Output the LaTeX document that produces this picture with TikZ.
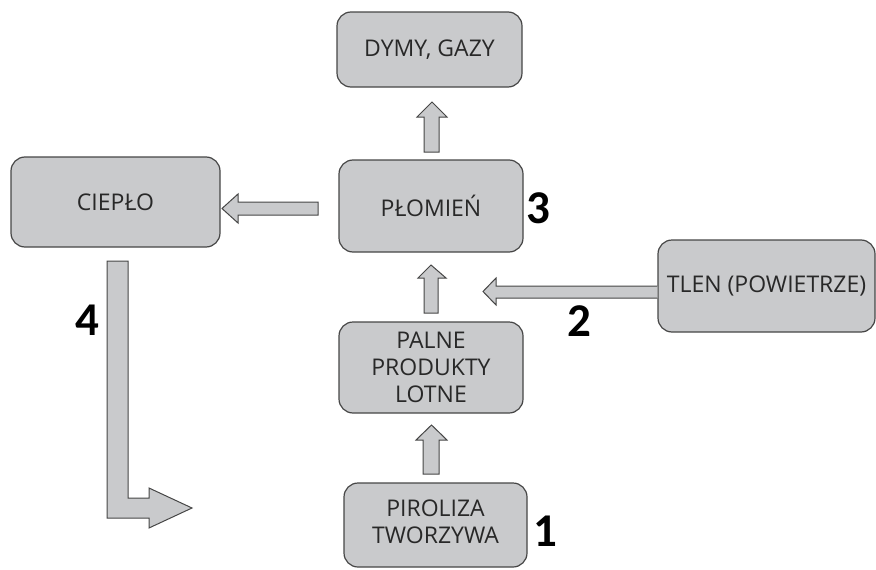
\documentclass[tikz,border=0pt]{standalone}
\usepackage{fontspec}
\setmainfont{Open Sans}
\newfontfamily\numfont{Carlito}
\definecolor{boxfill}{RGB}{201,202,204}
\definecolor{boxline}{RGB}{70,70,70}
\definecolor{txt}{RGB}{40,40,40}
\begin{document}
\begin{tikzpicture}[x=1pt,y=-1pt,
  box/.style={draw=boxline, fill=boxfill, line width=1.2pt, rounded corners=14pt,
    inner sep=0pt, align=center, text=txt,
    font=\fontsize{23}{27}\selectfont},
  blockarrow/.style={draw=boxline, fill=boxfill, line width=1pt, line join=miter},
  num/.style={font=\numfont\bfseries\fontsize{47}{47}\selectfont, text=black, inner sep=0pt}
]
\useasboundingbox (0,0) rectangle (876,570);

\node[box, minimum width=185pt, minimum height=75pt] (dym) at (429.5,49.5) {DYMY, GAZY};
\node[box, minimum width=209pt, minimum height=90pt] (cie) at (115.5,202) {CIEPŁO};
\node[box, minimum width=184pt, minimum height=92pt] (plo) at (431,206) {PŁOMIEŃ};
\node[box, minimum width=217pt, minimum height=92pt] (tlen) at (766.5,286) {\raisebox{-5pt}{TLEN (POWIETRZE)}};
\node[box, minimum width=184pt, minimum height=91pt] (pal) at (431,367.5) {PALNE\\PRODUKTY\\LOTNE};
\node[box, minimum width=183pt, minimum height=84pt] (pir) at (435.5,525) {\raisebox{-5pt}{\begin{tabular}{@{}c@{}}PIROLIZA\\TWORZYWA\end{tabular}}};

% block arrows
\draw[blockarrow] (424,152) -- (424,117) -- (417,117) -- (432,102) -- (447,117) -- (439,117) -- (439,152) -- cycle;
\draw[blockarrow] (424,313) -- (424,278) -- (418,278) -- (431,265) -- (446,278) -- (438,278) -- (438,313) -- cycle;
\draw[blockarrow] (423,474) -- (423,440) -- (416,440) -- (431.5,425) -- (447,440) -- (439,440) -- (439,474) -- cycle;
\draw[blockarrow] (318,202) -- (238,202) -- (238,194) -- (222,208.5) -- (238,223) -- (238,215) -- (318,215) -- cycle;
\draw[blockarrow] (tlen.west |- 0,286) -- (496,286) -- (496,278) -- (483,291.5) -- (496,305) -- (496,298) -- (tlen.west |- 0,298);
\draw[blockarrow] (107,261) -- (128,261) -- (128,498) -- (149,498) -- (149,488) -- (192,508) -- (149,528) -- (149,518) -- (107,518) -- cycle;

% numbers
\node[num] (n1) at (545,531) {1};
\node[num] (n2) at (579,321) {2};
\node[num] (n3) at (538,208) {3};
\node[num] (n4) at (87,320) {4};
\end{tikzpicture}
\end{document}
